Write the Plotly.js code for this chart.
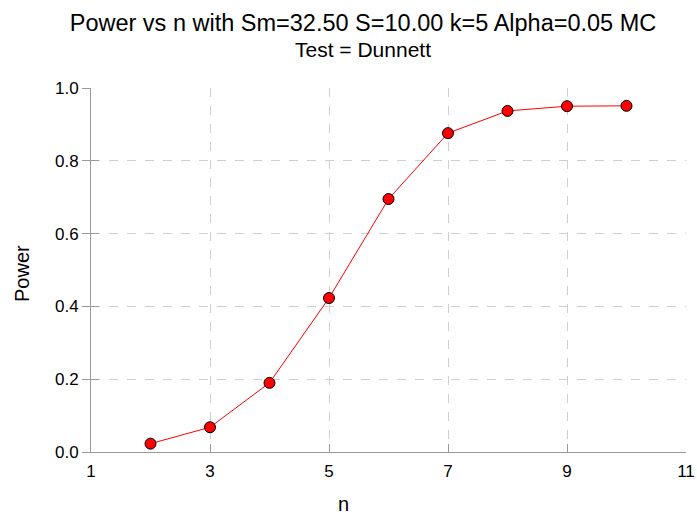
<!DOCTYPE html>
<html>
<head>
<meta charset="utf-8">
<script src="https://cdn.plot.ly/plotly-3.0.1.min.js"></script>
<style>html,body{margin:0;padding:0;background:#fff;}#chart{width:697px;height:517px;}</style>
</head>
<body>
<div id="chart"></div>
<script>
const nValues = [2, 3, 4, 5, 6, 7, 8, 9, 10];
const powerValues = [0.023, 0.068, 0.190, 0.423, 0.695, 0.876, 0.937, 0.950, 0.951];
const xTickVals = [1, 3, 5, 7, 9, 11];
const yTickVals = [0.0, 0.2, 0.4, 0.6, 0.8, 1.0];
const titleLine1 = "Power vs n with Sm=32.50 S=10.00 k=5 Alpha=0.05 MC";
const titleLine2 = "Test = Dunnett";
const xTitle = "n";
const yTitle = "Power";

const font = "Liberation Sans, Arial, Helvetica, sans-serif";
const axisGray = "#9a9a9a";
const gridGray = "#cfcfcf";

const trace = {
  x: nValues, y: powerValues, type: "scatter", mode: "lines+markers",
  line: {color: "#ff0000", width: 1},
  marker: {color: "#ff0000", size: 11, line: {color: "#000000", width: 1}},
  cliponaxis: false, hoverinfo: "skip"
};
const ghost = {x: [1], y: [0], yaxis: "y2", type: "scatter", mode: "markers",
  marker: {opacity: 0}, showlegend: false, hoverinfo: "skip"};

const layout = {
  width: 697, height: 517,
  margin: {l: 91, r: 11, t: 88, b: 65},
  paper_bgcolor: "#ffffff", plot_bgcolor: "#ffffff",
  showlegend: false,
  font: {family: font, color: "#000000"},
  title: {
    text: titleLine1,
    font: {family: font, size: 23.5, color: "#000"},
    xref: "container", x: 363/697, xanchor: "center",
    yref: "container", y: 1 - 23/517, yanchor: "middle"
  },
  xaxis: {
    range: [1, 11], tickvals: xTickVals, ticktext: xTickVals.map(String),
    showline: true, linecolor: axisGray, linewidth: 1,
    ticks: "inside", ticklen: 8, tickcolor: axisGray, tickwidth: 1,
    showgrid: true, gridcolor: gridGray, griddash: "dash", gridwidth: 1,
    zeroline: false, tickfont: {family: font, size: 17, color: "#000"},
    ticklabelstandoff: 4, fixedrange: true
  },
  yaxis: {
    range: [0, 1], tickvals: yTickVals, ticktext: yTickVals.map(v => v.toFixed(1)),
    showline: true, linecolor: axisGray, linewidth: 1,
    ticks: "outside", ticklen: 8, tickcolor: axisGray, tickwidth: 1,
    showgrid: true, gridcolor: gridGray, griddash: "dash", gridwidth: 1,
    zeroline: false, tickfont: {family: font, size: 17, color: "#000"},
    fixedrange: true
  },
  yaxis2: {
    overlaying: "y", range: [0, 1], tickvals: yTickVals, showticklabels: false,
    ticks: "inside", ticklen: 8, tickcolor: axisGray, tickwidth: 1,
    showgrid: false, zeroline: false, showline: false, side: "left", fixedrange: true
  },
  annotations: [
    {text: titleLine2, xref: "paper", yref: "paper", x: (363-91)/595, y: (451-49)/364,
     xanchor: "center", yanchor: "middle", showarrow: false,
     font: {family: font, size: 21, color: "#000"}},
    {text: xTitle, xref: "paper", yref: "paper", x: (343-91)/595, y: -52/364,
     xanchor: "center", yanchor: "middle", showarrow: false,
     font: {family: font, size: 20, color: "#000"}},
    {text: yTitle, xref: "paper", yref: "paper", x: -69/595, y: (451-273)/364,
     xanchor: "center", yanchor: "middle", showarrow: false, textangle: -90,
     font: {family: font, size: 20, color: "#000"}}
  ]
};
Plotly.newPlot("chart", [trace, ghost], layout, {displayModeBar: false, staticPlot: true});
</script>
</body>
</html>
